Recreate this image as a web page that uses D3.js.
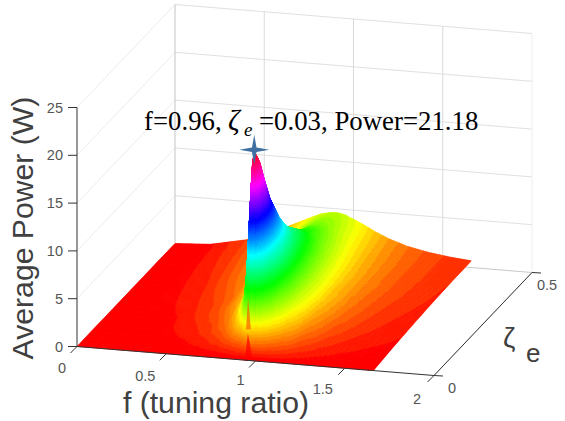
<!DOCTYPE html>
<html>
<head>
<meta charset="utf-8">
<style>
  html, body { margin: 0; padding: 0; background: #fff; }
  svg { display: block; }
  text { font-family: "Liberation Sans", Arial, sans-serif; }
  .tick { font-size: 14.5px; fill: #555; }
  .title { font-size: 30.2px; fill: #404040; }
  .note { font-family: "Liberation Serif", "Times New Roman", serif; font-size: 26.8px; fill: #000; }
</style>
<script src="https://cdn.jsdelivr.net/npm/d3@7"></script>
</head>
<body>
<div id="chart"></div>
<script>
// values
const fTicks = [0, 0.5, 1, 1.5, 2];
const zetaTicks = [0, 0.5];
const powerTicks = [0, 5, 10, 15, 20, 25];
const peak = { f: 0.96, zeta: 0.03, power: 21.18 };

const fValues = [0, 0.2, 0.4, 0.55, 0.65, 0.75, 0.82, 0.87, 0.9, 0.92, 0.94, 0.95, 0.96, 0.97, 0.98, 1, 1.03, 1.07, 1.12, 1.2, 1.3, 1.42, 1.54, 1.66];
const zetaValues = [0, 0.005, 0.01, 0.02, 0.03, 0.05, 0.07, 0.1, 0.15, 0.2, 0.3, 0.4, 0.5];

// one list of power per zeta, same order as fValues
const power000 = [0, 0, 0, 0, 0, 0, 0, 0, 0, 0, 0, 0, 0, 0, 0, 0, 0, 0, 0, 0, 0, 0, 0, 0];
const power005 = [0, 0, 0.01, 0.03, 0.06, 0.1, 0.2, 0.4, 0.7, 1.1, 2.2, 3.5, 6, 7.5, 7, 4, 1.96, 0.83, 0.37, 0.15, 0.07, 0.03, 0.02, 0.01];
const power010 = [0, 0.01, 0.03, 0.06, 0.1, 0.2, 0.4, 0.8, 1.3, 2.4, 5, 8, 12, 13.5, 12, 7.5, 3.67, 1.6, 0.74, 0.3, 0.14, 0.07, 0.04, 0.03];
const power020 = [0, 0.01, 0.05, 0.12, 0.22, 0.45, 1, 1.9, 3, 5.5, 12, 16, 19, 19.6, 17.7, 12.2, 6.36, 2.98, 1.42, 0.58, 0.27, 0.14, 0.08, 0.05];
const power030 = [0, 0.02, 0.08, 0.2, 0.36, 0.8, 1.5, 2.8, 4.6, 9, 16.5, 19.8, 21.18, 20.8, 18.9, 14.1, 8.2, 4.13, 2.04, 0.86, 0.4, 0.2, 0.12, 0.08];
const power050 = [0, 0.02, 0.13, 0.32, 0.56, 1.15, 2.3, 3.9, 7.5, 13, 18, 19.4, 20, 19.6, 18.2, 14.9, 10.1, 5.76, 3.06, 1.36, 0.64, 0.33, 0.2, 0.13];
const power070 = [0, 0.03, 0.18, 0.45, 0.8, 1.6, 2.8, 5.5, 11, 14.6, 17, 17.7, 17.9, 17.6, 16.5, 14.2, 10.5, 6.65, 3.81, 1.78, 0.87, 0.45, 0.27, 0.18];
const power100 = [0, 0.05, 0.25, 0.6, 1, 2, 3.6, 7.4, 11.4, 13.3, 14.8, 15.07, 15.18, 14.87, 14.1, 12.6, 10.1, 7.13, 4.48, 2.27, 1.16, 0.62, 0.38, 0.25];
const power150 = [0, 0.07, 0.33, 0.85, 1.45, 2.6, 4.5, 7.8, 10.2, 11.25, 11.78, 11.87, 11.88, 11.65, 11.2, 10.3, 8.77, 6.84, 4.82, 2.76, 1.53, 0.86, 0.53, 0.36];
const power200 = [0, 0.1, 0.45, 1, 1.6, 3, 5.5, 7.9, 9.1, 9.5, 9.7, 9.7, 9.6, 9.45, 9.2, 8.6, 7.6, 6.18, 4.67, 2.93, 1.75, 1.03, 0.66, 0.46];
const power300 = [0, 0.14, 0.65, 1.5, 2.2, 3.6, 5.3, 6.5, 6.9, 7.05, 7.05, 7, 6.95, 6.85, 6.7, 6.35, 5.75, 4.94, 4.01, 2.83, 1.89, 1.22, 0.83, 0.6];
const power400 = [0, 0.19, 0.85, 1.8, 2.7, 4, 4.9, 5.4, 5.5, 5.5, 5.45, 5.4, 5.35, 5.27, 5.15, 4.93, 4.53, 4.02, 3.39, 2.54, 1.83, 1.27, 0.9, 0.68];
const power500 = [0, 0.23, 1, 2, 2.9, 3.77, 4.35, 4.55, 4.6, 4.58, 4.5, 4.45, 4.4, 4.3, 4.2, 4.05, 3.8, 3.45, 2.95, 2.3, 1.69, 1.23, 0.92, 0.71];
const powerRows = [power000, power005, power010, power020, power030, power050, power070, power100, power150, power200, power300, power400, power500];

// the narrow dark notch at the foot of the ridge: [f, zeta, power]
const notchLow = [[0.941, 0, 0.2], [0.986, 0, 0], [0.841, 0.106, 0.4]];
const notchHigh = [[0.87, 0.07, 1.6], [0.895, 0.072, 1.6], [0.72, 0.217, 1.6]];

const width = 565, height = 421;

// oblique projection of the box, one scale per screen contribution
const fToX = d3.scaleLinear().domain([0, 2]).range([77, 434]);
const fToY = d3.scaleLinear().domain([0, 2]).range([0, 29]);
const zetaToX = d3.scaleLinear().domain([0, 0.5]).range([0, 98]);
const zetaToY = d3.scaleLinear().domain([0, 0.5]).range([0, -103]);
const powerToY = d3.scaleLinear().domain([0, 25]).range([346.5, 107.5]);

function project(f, zeta, p) {
  return [fToX(f) + zetaToX(zeta), fToY(f) + zetaToY(zeta) + powerToY(p)];
}

// hsv colormap, 64 steps like matlab
const colors = d3.range(64).map(i => d3.hsl(i / 64 * 360, 1, 0.5).formatHex());
const colorScale = d3.scaleQuantize().domain([0, peak.power]).range(colors);

const svg = d3.select("#chart").append("svg")
  .attr("width", width)
  .attr("height", height);

function wallLine(a, b, stroke) {
  svg.append("line")
    .attr("x1", a[0]).attr("y1", a[1])
    .attr("x2", b[0]).attr("y2", b[1])
    .attr("stroke", stroke)
    .attr("stroke-width", 1);
}

const zetaMax = d3.max(zetaTicks), fMax = d3.max(fTicks), powerMax = d3.max(powerTicks);

// walls
powerTicks.slice(1).forEach(p => {
  wallLine(project(0, 0, p), project(0, zetaMax, p), "#ececec");
  wallLine(project(0, zetaMax, p), project(fMax, zetaMax, p), "#e0e0e0");
});
fTicks.slice(1).forEach(f => {
  wallLine(project(f, zetaMax, 0), project(f, zetaMax, powerMax), f === fMax ? "#efefef" : "#dadada");
  wallLine(project(f, 0, 0), project(f, zetaMax, 0), "#dedede");
});
wallLine(project(0, zetaMax, 0), project(0, zetaMax, powerMax), "#c4c4c4");
wallLine(project(0, zetaMax, 0), project(fMax, zetaMax, 0), "#c8c8c8");
wallLine(project(0, 0, 0), project(0, zetaMax, 0), "#dedede");

// surface, painted back to front: high zeta first, low f first
const surface = svg.append("g").attr("class", "surface");
let runColor = null, runPath = null;

function flushRun() {
  if (runPath) {
    surface.append("path")
      .attr("d", runPath.toString())
      .attr("fill", runColor)
      .attr("stroke", runColor)
      .attr("stroke-width", 0.6)
      .attr("stroke-linejoin", "round");
  }
  runPath = null;
}

function addQuad(pts, color) {
  if (color !== runColor) {
    flushRun();
    runColor = color;
  }
  if (!runPath) runPath = d3.path();
  runPath.moveTo(pts[0][0], pts[0][1]);
  pts.slice(1).forEach(q => runPath.lineTo(q[0], q[1]));
  runPath.closePath();
}

for (let j = zetaValues.length - 2; j >= 0; j--) {
  for (let i = 0; i < fValues.length - 1; i++) {
    const f0 = fValues[i], f1 = fValues[i + 1], s0 = zetaValues[j], s1 = zetaValues[j + 1];
    const p00 = powerRows[j][i], p10 = powerRows[j][i + 1], p01 = powerRows[j + 1][i], p11 = powerRows[j + 1][i + 1];
    const a = project(f0, s0, p00), b = project(f1, s0, p10), c = project(f1, s1, p11), d = project(f0, s1, p01);
    const nu = Math.max(1, Math.ceil(Math.max(Math.hypot(b[0] - a[0], b[1] - a[1]), Math.hypot(c[0] - d[0], c[1] - d[1])) / 1.5));
    const nv = Math.max(1, Math.ceil(Math.max(Math.hypot(d[0] - a[0], d[1] - a[1]), Math.hypot(c[0] - b[0], c[1] - b[1])) / 1.5));
    const at = (u, v) => {
      const p = d3.interpolateNumber(d3.interpolateNumber(p00, p10)(u), d3.interpolateNumber(p01, p11)(u))(v);
      return { f: f0 + (f1 - f0) * u, zeta: s0 + (s1 - s0) * v, p };
    };
    const pt = (u, v) => { const q = at(u, v); return project(q.f, q.zeta, q.p); };
    for (let v = nv - 1; v >= 0; v--) {
      for (let u = 0; u < nu; u++) {
        const u0 = u / nu, u1 = (u + 1) / nu, v0 = v / nv, v1 = (v + 1) / nv;
        addQuad([pt(u0, v0), pt(u1, v0), pt(u1, v1), pt(u0, v1)],
          colorScale(at((u0 + u1) / 2, (v0 + v1) / 2).p));
      }
    }
  }
}
flushRun();

// notch on top of the surface
[notchHigh, notchLow].forEach(tri => {
  surface.append("path")
    .attr("d", d3.line()(tri.map(d => project(d[0], d[1], d[2]))) + "Z")
    .attr("fill", colorScale(d3.mean(tri, d => d[2])))
    .attr("opacity", 0.7);
});

// axes in front
const axisColor = "#333";
wallLine(project(0, 0, 0), project(0, 0, powerMax), axisColor);
wallLine(project(0, 0, 0), project(fMax, 0, 0), axisColor);
wallLine(project(fMax, 0, 0), project(fMax, zetaMax, 0), axisColor);

powerTicks.forEach(p => {
  const q = project(0, 0, p);
  wallLine(q, [q[0] - 9, q[1]], axisColor);
  svg.append("text").attr("class", "tick")
    .attr("x", q[0] - 14).attr("y", q[1] + 5)
    .attr("text-anchor", "end")
    .text(p);
});

const fLabelShift = { 0: [-15, 26], 0.5: [-21, 27], 1: [-15, 23.5], 1.5: [-22, 26], 2: [-17, 28] };
fTicks.forEach(f => {
  const q = project(f, 0, 0);
  wallLine(q, [q[0] - 6.5, q[1] + 6.5], axisColor);
  svg.append("text").attr("class", "tick")
    .attr("x", q[0] + fLabelShift[f][0]).attr("y", q[1] + fLabelShift[f][1])
    .attr("text-anchor", "middle")
    .text(f);
});

zetaTicks.forEach(z => {
  const q = project(fMax, z, 0);
  wallLine(q, [q[0] + 9, q[1] + 0.5], axisColor);
  svg.append("text").attr("class", "tick")
    .attr("x", q[0] + (z === 0 ? 18 : 15)).attr("y", q[1] + 17)
    .attr("text-anchor", "middle")
    .text(z);
});

// axis labels
svg.append("text").attr("class", "title")
  .attr("transform", "translate(33,228) rotate(-90)")
  .attr("text-anchor", "middle")
  .text("Average Power (W)");
svg.append("text").attr("class", "title")
  .attr("x", 216).attr("y", 413)
  .attr("text-anchor", "middle")
  .text("f (tuning ratio)");
svg.append("text").attr("x", 503).attr("y", 347)
  .style("font-size", "28px").attr("fill", "#404040").text("ζ");
svg.append("text").attr("x", 526).attr("y", 362)
  .style("font-size", "26px").attr("fill", "#404040").text("e");

// peak annotation
const note = svg.append("g").attr("class", "note");
note.append("text").attr("class", "note").attr("x", 144).attr("y", 130).text("f=0.96,");
note.append("text").attr("class", "note").attr("x", 228).attr("y", 130)
  .style("font-size", "29px").style("font-style", "italic").text("ζ");
note.append("text").attr("class", "note").attr("x", 244).attr("y", 136)
  .style("font-size", "19px").style("font-style", "italic").text("e");
note.append("text").attr("class", "note").attr("x", 259).attr("y", 130).text("=0.03, Power=21.18");

// four pointed star on the peak
const starRadial = d3.lineRadial()
  .angle((d, i) => i * Math.PI / 4)
  .radius(d => d)
  .curve(d3.curveLinearClosed);
const star = project(peak.f, peak.zeta, peak.power);
svg.append("path")
  .attr("transform", `translate(${star[0]},${star[1] - 2})`)
  .attr("d", starRadial([15, 3.2, 15, 3.2, 15, 3.2, 15, 3.2]))
  .attr("fill", "#3f6fa0");
</script>
</body>
</html>
